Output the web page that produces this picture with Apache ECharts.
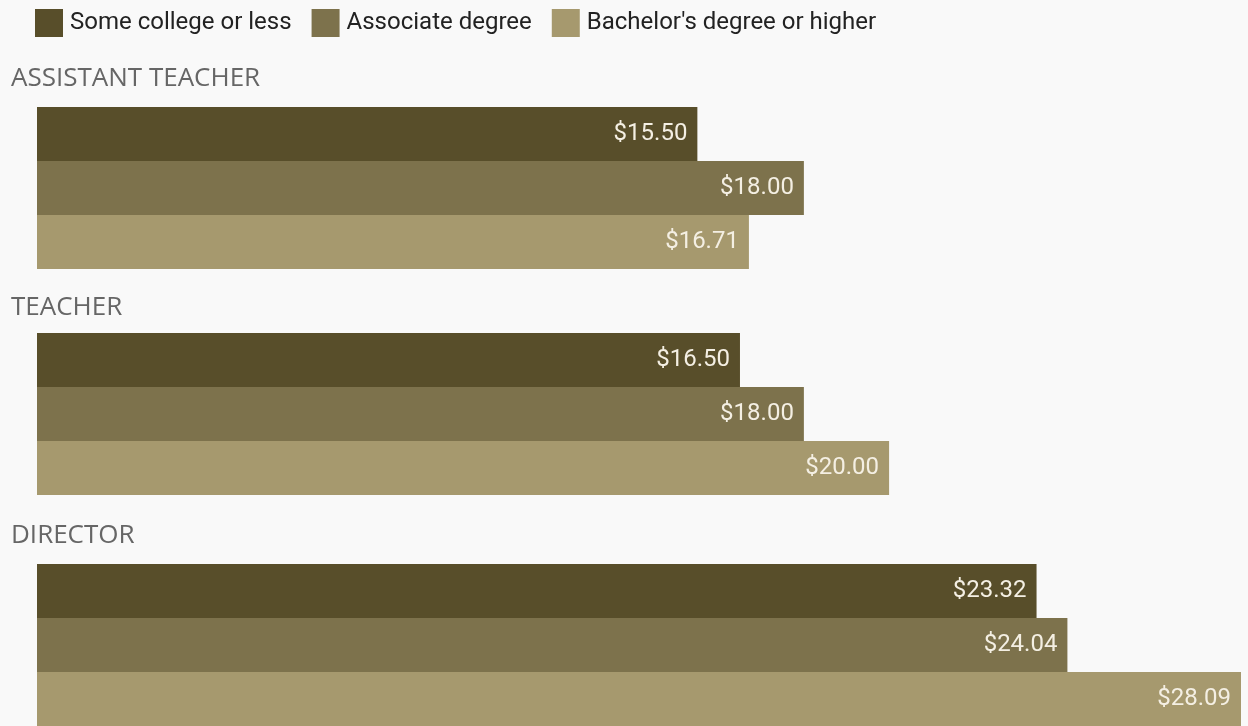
<!DOCTYPE html>
<html><head><meta charset="utf-8">
<script src="https://cdn.jsdelivr.net/npm/echarts@6/dist/echarts.min.js"></script>
<style>html,body{margin:0;padding:0;background:#f9f9f9;}#c{width:1248px;height:726px;}</style>
</head><body><div id="c"></div>
<script>
const roles = ['ASSISTANT TEACHER', 'TEACHER', 'DIRECTOR'];
const levels = ['Some college or less', 'Associate degree', "Bachelor's degree or higher"];
const someCollege = [15.50, 16.50, 23.32];
const associate = [18.00, 18.00, 24.04];
const bachelor = [16.71, 20.00, 28.09];
const colors = ['#584e2a', '#7d724c', '#a6996e'];

const values = [someCollege, associate, bachelor];
const gridTops = [107, 333, 564];
const titleTops = [66, 295, 523];
const axisMax = [28.26, 28.26, 28.09];

const grids = [], xAxes = [], yAxes = [], series = [], titles = [];
roles.forEach((r, g) => {
  grids.push({left: 37, top: gridTops[g], width: 1204, height: 162});
  xAxes.push({type: 'value', gridIndex: g, min: 0, max: axisMax[g], show: false});
  yAxes.push({type: 'category', gridIndex: g, data: levels, inverse: true, show: false});
  titles.push({text: r, left: 11, top: titleTops[g], padding: 0,
    textStyle: {fontFamily: 'Open Sans', fontWeight: 'normal', fontSize: 26, color: '#666'}});
  levels.forEach((lv, i) => {
    const d = levels.map((_, j) => j === i ? values[i][g] : '-');
    series.push({
      name: lv, type: 'bar', xAxisIndex: g, yAxisIndex: g, data: d,
      barWidth: 54, barGap: '-100%', itemStyle: {color: colors[i]},
      silent: true, animation: false,
      label: {show: true, position: 'insideRight', distance: 10,
        formatter: p => '$' + p.value.toFixed(2),
        fontFamily: 'Roboto', fontSize: 24, color: '#f4efe3'}
    });
  });
});

const chart = echarts.init(document.getElementById('c'), null, {renderer: 'canvas'});
chart.setOption({
  backgroundColor: '#f9f9f9',
  animation: false,
  title: titles,
  legend: {data: levels, left: 35, top: 9, padding: 0, itemWidth: 28, itemHeight: 28, itemGap: 20,
    icon: 'rect', selectedMode: false,
    textStyle: {fontFamily: 'Roboto', fontSize: 24, color: '#222', padding: [2,0,0,2]}},
  grid: grids, xAxis: xAxes, yAxis: yAxes, series: series
});
</script></body></html>
